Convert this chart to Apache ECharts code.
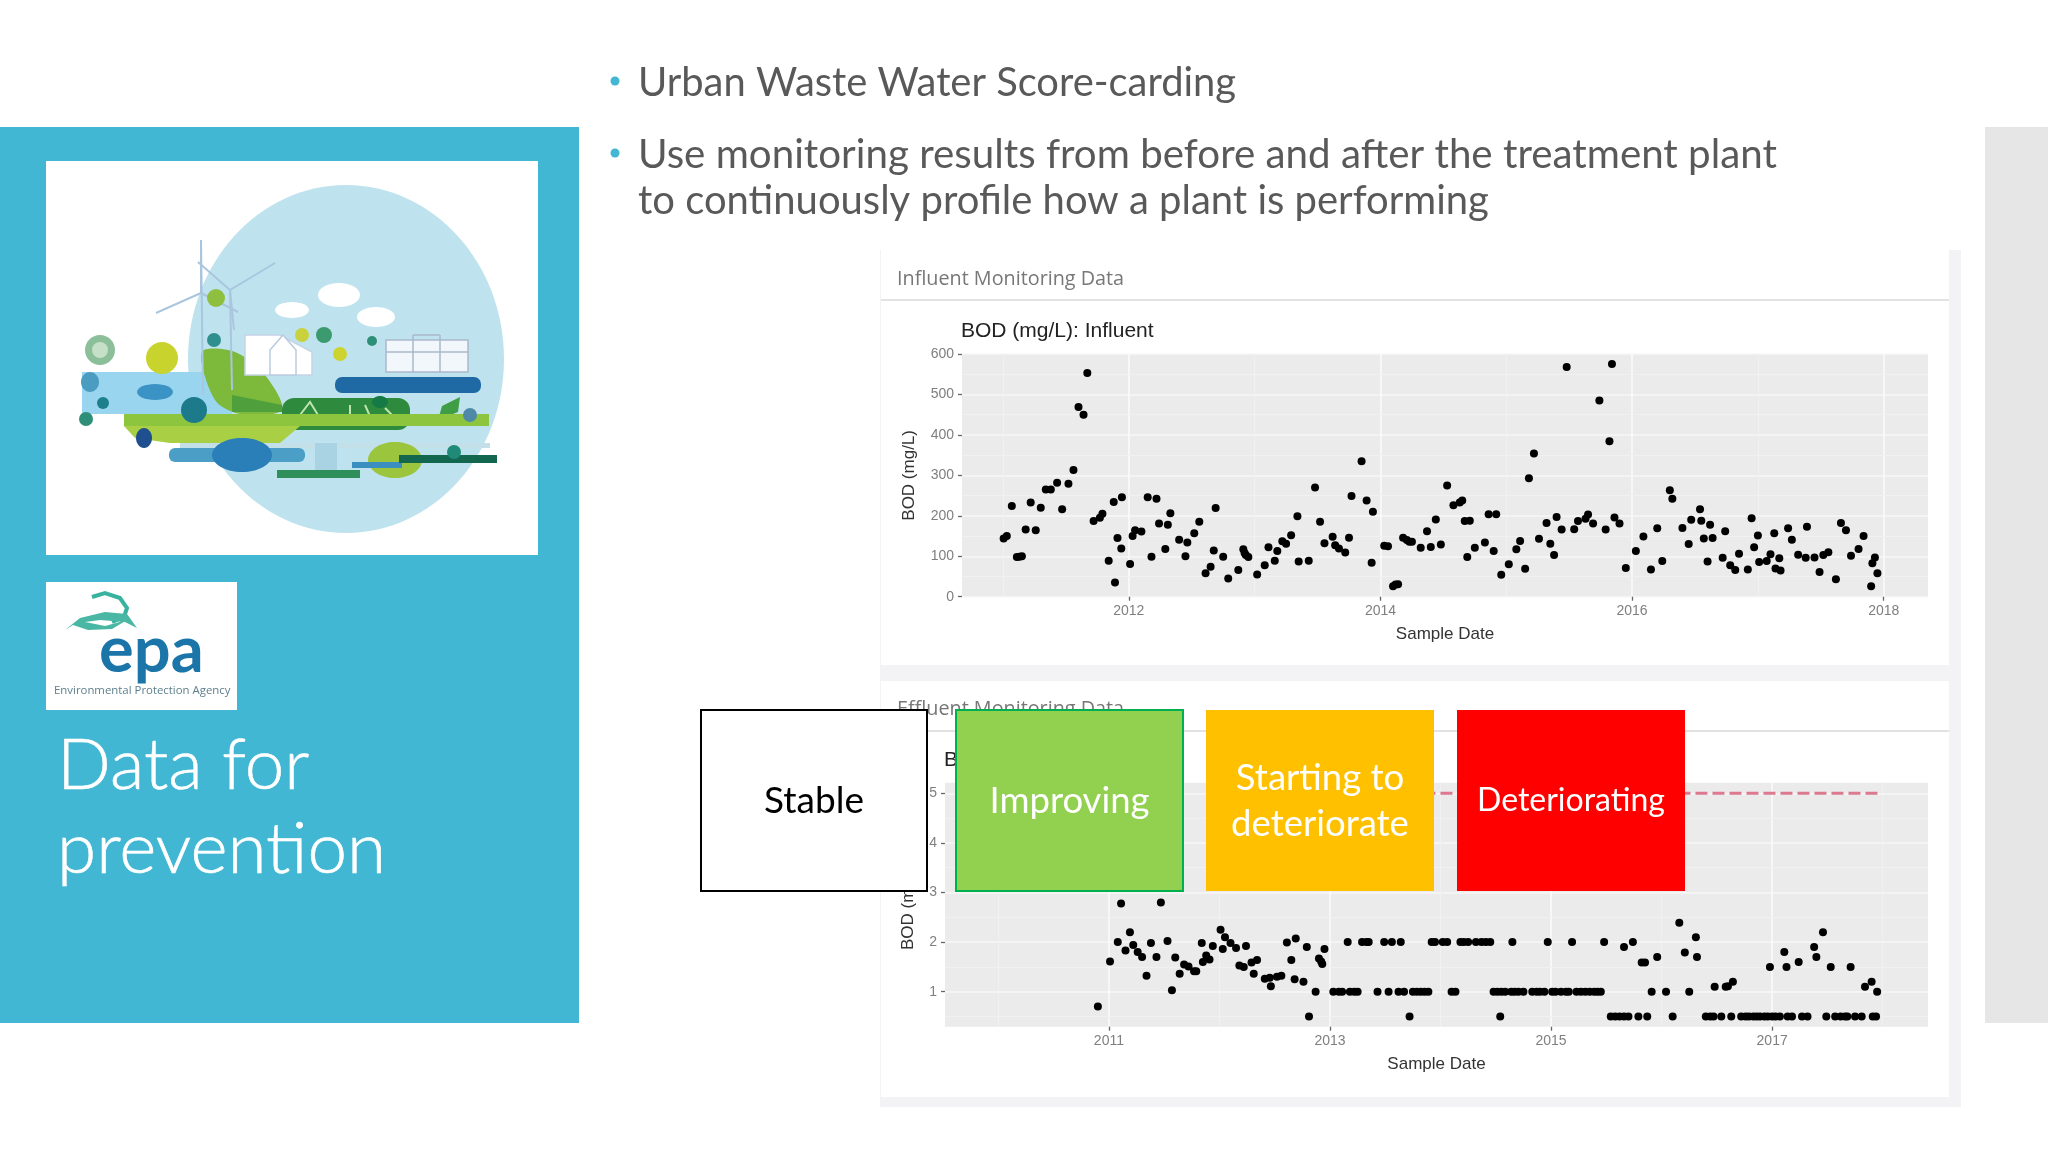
<!DOCTYPE html>
<html><head><meta charset="utf-8">
<style>html,body{margin:0;padding:0;background:#fff}#c{width:2048px;height:1152px}</style>
<script src="https://cdn.jsdelivr.net/npm/echarts@6/dist/echarts.min.js"></script>
</head><body><div id="c"></div>
<script>
const influentDates=[2011.005,2011.03,2011.07,2011.11,2011.13,2011.15,2011.18,2011.22,2011.26,2011.30,2011.34,2011.38,2011.43,2011.47,2011.52,2011.56,2011.60,2011.64,2011.67,2011.72,2011.77,2011.79,2011.84,2011.88,2011.89,2011.91,2011.94,2011.945,2012.01,2012.03,2012.05,2012.10,2012.15,2012.18,2012.22,2012.24,2012.29,2012.31,2012.33,2012.40,2012.45,2012.465,2012.52,2012.56,2012.61,2012.65,2012.675,2012.69,2012.75,2012.79,2012.87,2012.91,2012.92,2012.93,2012.95,2013.02,2013.08,2013.11,2013.16,2013.18,2013.22,2013.25,2013.29,2013.34,2013.35,2013.43,2013.48,2013.52,2013.555,2013.62,2013.64,2013.67,2013.72,2013.75,2013.77,2013.85,2013.89,2013.93,2013.94,2014.03,2014.06,2014.10,2014.12,2014.14,2014.18,2014.21,2014.23,2014.25,2014.32,2014.37,2014.40,2014.44,2014.48,2014.53,2014.58,2014.63,2014.65,2014.67,2014.71,2014.69,2014.75,2014.83,2014.86,2014.92,2014.90,2014.96,2015.02,2015.08,2015.11,2015.15,2015.18,2015.22,2015.26,2015.32,2015.35,2015.38,2015.40,2015.44,2015.48,2015.54,2015.57,2015.63,2015.65,2015.69,2015.74,2015.79,2015.82,2015.84,2015.86,2015.90,2015.95,2016.03,2016.09,2016.15,2016.20,2016.24,2016.30,2016.32,2016.40,2016.45,2016.47,2016.54,2016.55,2016.57,2016.60,2016.62,2016.64,2016.72,2016.74,2016.78,2016.82,2016.85,2016.92,2016.95,2016.97,2017.00,2017.01,2017.07,2017.10,2017.13,2017.14,2017.17,2017.18,2017.24,2017.27,2017.32,2017.38,2017.39,2017.45,2017.49,2017.52,2017.56,2017.62,2017.66,2017.70,2017.74,2017.80,2017.84,2017.90,2017.91,2017.93,2017.95];
const influentBOD=[144,150,224,98,99,100,166,233,164,220,265,265,282,216,279,313,469,450,553,187,195,205,89,234,35,145,119,246,81,150,164,161,246,99,242,181,118,178,206,141,100,134,157,185,58,74,114,219,99,45,66,117,108,103,98,55,78,122,89,113,137,131,152,199,87,89,270,185,132,148,127,119,109,146,249,335,238,84,210,126,125,26,30,31,146,140,136,136,121,162,123,191,129,275,226,233,238,187,188,98,121,134,204,204,113,54,80,117,138,69,293,354,143,182,131,103,197,166,568,167,187,193,203,181,485,166,384,575,196,181,71,113,149,67,169,88,263,242,170,130,190,216,188,144,87,178,145,96,162,78,66,106,67,194,122,151,86,88,105,157,70,95,65,169,141,104,96,173,97,61,103,110,43,182,164,101,118,150,26,83,97,58];

const effluentVariedDates=[2010.90,2011.01,2011.08,2011.11,2011.15,2011.19,2011.22,2011.26,2011.30,2011.34,2011.38,2011.43,2011.47,2011.53,2011.57,2011.60,2011.64,2011.68,2011.72,2011.77,2011.79,2011.84,2011.85,2011.88,2011.91,2011.94,2012.01,2012.03,2012.05,2012.10,2012.15,2012.18,2012.22,2012.24,2012.29,2012.31,2012.34,2012.41,2012.455,2012.465,2012.52,2012.56,2012.61,2012.65,2012.68,2012.69,2012.76,2012.79,2012.90,2012.92,2012.93,2012.95,2015.66,2015.82,2015.85,2015.96,2016.16,2016.21,2016.31,2016.32,2016.48,2016.58,2016.60,2016.645,2016.98,2017.11,2017.13,2017.24,2017.38,2017.40,2017.46,2017.53,2017.71,2017.84,2017.90];
const effluentVariedBOD=[0.70,1.61,2.00,2.78,1.83,2.20,1.94,1.80,1.70,1.32,1.98,1.70,2.80,2.02,1.03,1.69,1.36,1.55,1.51,1.41,1.41,1.98,1.60,1.73,1.65,1.92,2.25,1.86,2.10,1.98,1.88,1.53,1.50,1.92,1.59,1.36,1.64,1.26,1.28,1.11,1.30,1.32,1.99,1.64,1.25,2.07,1.20,1.90,1.67,1.61,1.56,1.86,1.90,1.59,1.59,1.70,2.39,1.79,2.10,1.70,1.10,1.10,1.11,1.20,1.50,1.80,1.50,1.60,1.90,1.70,2.20,1.50,1.50,1.10,1.20];
const effluentAtOneDates=[2012.87,2013.03,2013.08,2013.11,2013.18,2013.22,2013.25,2013.43,2013.53,2013.62,2013.67,2013.75,2013.785,2013.82,2013.855,2013.89,2014.10,2014.135,2014.48,2014.515,2014.55,2014.585,2014.64,2014.67,2014.705,2014.75,2014.83,2014.87,2014.90,2014.94,2015.01,2015.04,2015.09,2015.135,2015.16,2015.23,2015.27,2015.31,2015.35,2015.39,2015.42,2015.45,2015.91,2016.04,2016.25,2017.95];
const effluentAtOneBOD=[1,1,1,1,1,1,1,1,1,1,1,1,1,1,1,1,1,1,1,1,1,1,1,1,1,1,1,1,1,1,1,1,1,1,1,1,1,1,1,1,1,1,1,1,1,1];
const effluentAtTwoDates=[2013.16,2013.29,2013.33,2013.35,2013.49,2013.56,2013.64,2013.92,2013.95,2014.02,2014.06,2014.18,2014.21,2014.25,2014.32,2014.37,2014.41,2014.45,2014.65,2014.97,2015.19,2015.48,2015.74];
const effluentAtTwoBOD=[2,2,2,2,2,2,2,2,2,2,2,2,2,2,2,2,2,2,2,2,2,2,2];
const effluentAtHalfDates=[2012.81,2013.72,2014.54,2015.54,2015.58,2015.62,2015.66,2015.70,2015.79,2015.87,2016.10,2016.40,2016.44,2016.47,2016.54,2016.63,2016.72,2016.76,2016.79,2016.83,2016.86,2016.89,2016.93,2016.96,2017.00,2017.03,2017.07,2017.14,2017.18,2017.27,2017.32,2017.49,2017.57,2017.62,2017.66,2017.68,2017.75,2017.81,2017.91,2017.94];
const effluentAtHalfBOD=[0.5,0.5,0.5,0.5,0.5,0.5,0.5,0.5,0.5,0.5,0.5,0.5,0.5,0.5,0.5,0.5,0.5,0.5,0.5,0.5,0.5,0.5,0.5,0.5,0.5,0.5,0.5,0.5,0.5,0.5,0.5,0.5,0.5,0.5,0.5,0.5,0.5,0.5,0.5,0.5];
const thresholdDates=[2012,2017.995];
const thresholdBOD=[5,5];

const influentYearTicks=[2012,2014,2016,2018];
const influentYearMinor=[2011,2013,2015,2017];
const influentValueMinor=[50,150,250,350,450,550];
const effluentYearTicks=[2011,2013,2015,2017];
const effluentYearMinor=[2010,2012,2014,2016,2018];
const effluentValueTicks=[1,2,3,4,5];
const effluentValueMinor=[0.5,1.5,2.5,3.5,4.5];

const zip=(a,b)=>a.map((v,i)=>[v,b[i]]);
const effluentPoints=[].concat(zip(effluentVariedDates,effluentVariedBOD),zip(effluentAtOneDates,effluentAtOneBOD),zip(effluentAtTwoDates,effluentAtTwoBOD),zip(effluentAtHalfDates,effluentAtHalfBOD));

const AX='"Liberation Sans",Arial,sans-serif', SL='Lato,"Open Sans",sans-serif', UI='"Open Sans",sans-serif';
const xAxis=(grid,min,max,ticks,gap)=>({type:'value',gridIndex:grid,min,max,name:'Sample Date',nameLocation:'middle',nameGap:gap,
 nameTextStyle:{fontFamily:AX,fontSize:17,color:'#333'},
 axisLine:{show:false},axisTick:{show:true,length:4,customValues:ticks,lineStyle:{color:'#666',width:1.3}},
 axisLabel:{customValues:ticks,formatter:v=>String(Math.round(v)),fontFamily:AX,fontSize:14,color:'#7f7f7f',margin:7},
 splitLine:{show:true,lineStyle:{color:'#fafafa',width:1.6}},minorSplitLine:{show:false}});
const yAxis=(grid,min,max,extra,gap)=>Object.assign({type:'value',gridIndex:grid,min,max,name:'BOD (mg/L)',nameLocation:'middle',nameGap:gap,
 nameTextStyle:{fontFamily:AX,fontSize:17,color:'#333'},
 axisLine:{show:false},splitLine:{show:true,lineStyle:{color:'#f7f7f7',width:1.6}}},extra);
const minorLines=(xi,yi,xs,ys)=>({type:'scatter',xAxisIndex:xi,yAxisIndex:yi,data:[],z:1,silent:true,
 markLine:{silent:true,symbol:'none',z:1,animation:false,label:{show:false},lineStyle:{color:'#f1f1f1',width:1,type:'solid'},
  data:[...xs.map(v=>({xAxis:v})),...ys.map(v=>({yAxis:v}))]}});

/* slide furniture drawn as graphic elements */
const g=[];
const rect=(x,y,w,h,fill,z,r)=>g.push({type:'rect',shape:{x,y,width:w,height:h,r:r||0},style:{fill},z:z==null?-5:z});
const txt=(x,y,text,size,fill,font,z,extra)=>g.push({type:'text',x,y,z,style:Object.assign({text,fontSize:size,fill,fontFamily:font,textVerticalAlign:'middle',textBaseline:'middle'},extra||{})});
const circ=(cx,cy,r,fill,z)=>g.push({type:'circle',shape:{cx,cy,r},style:{fill},z:z==null?-5:z});
const ell=(cx,cy,rx,ry,fill,z)=>g.push({type:'ellipse',shape:{cx,cy,rx,ry},style:{fill},z:z==null?-5:z});
const poly=(points,fill,smooth)=>g.push({type:'polygon',shape:{points,smooth:smooth||0},style:{fill},z:-5});
const strokes=(segs,stroke,w)=>segs.forEach(points=>g.push({type:'polyline',shape:{points},style:{stroke,lineWidth:w,fill:null},z:-5}));

rect(0,127,579,896,'#41b7d3',-20);
rect(1985,127,63,896,'#e6e6e6',-20);
/* screenshot cards */
rect(880,250,1081,857,'#f3f3f5',-15);
rect(881,250,1068,415,'#fff',-14);
rect(881,681,1068,416,'#fff',-14);
rect(881,299,1068,2,'#e2e2e2',-13);
rect(881,730,1068,2,'#e2e2e2',-13);
txt(897,279.5,'Influent Monitoring Data',19.8,'#777',UI,-12);
txt(897,709.5,'Effluent Monitoring Data',19.8,'#777',UI,-12);

/* illustration */
rect(46,161,492,394,'#fff',-10);
ell(346,359,158,174,'#bfe3ee');
rect(82,372,150,42,'#9ad5ef');
ell(339,295,21,12,'#fff');ell(292,310,17,8,'#fff');ell(376,317,19,10,'#fff');
poly([[202,352],[235,352],[265,375],[282,410],[240,414],[215,400]],'#7db93a',0.3);
poly([[232,395],[282,405],[282,412],[232,412]],'#4fa03c');
strokes([[[201,240],[203,395]],[[230,290],[232,390]],[[201,293],[201,240]],[[201,293],[156,313]],[[201,293],[238,312]],[[230,290],[275,263]],[[230,290],[198,262]],[[230,290],[234,330]]],'#a9c6de',2);
g.push({type:'polygon',shape:{points:[[245,335],[280,335],[312,352],[312,375],[245,375]]},style:{fill:'#fff',stroke:'#c4d4e6',lineWidth:1.5},z:-5});
g.push({type:'polygon',shape:{points:[[270,375],[270,350],[283,335],[296,350],[296,375]]},style:{fill:'#fff',stroke:'#b9cbe0',lineWidth:1.5},z:-5});
g.push({type:'rect',shape:{x:386,y:340,width:82,height:32},style:{fill:'#f1f7fb',stroke:'#aab9cc',lineWidth:1.5},z:-5});
strokes([[[386,352],[468,352]],[[413,335],[413,372]],[[440,335],[440,372]],[[413,335],[440,335]]],'#aab9cc',1.5);
rect(335,377,146,16,'#1f6aa5',-5,7);
rect(282,398,128,32,'#2e8b3d',-5,12);
strokes([[[300,415],[310,402],[318,415],[310,423]],[[350,405],[350,423]],[[365,405],[373,423]],[[385,408],[393,416],[385,424]]],'#bfe4b0',2);
rect(124,414,365,12,'#8ec53f',-4);
poly([[124,426],[300,426],[280,443],[170,443],[135,438]],'#a9cf45');
rect(180,443,310,5,'#c3dfe8');
ell(100,350,15,15,'#8abf9a');circ(100,350,8,'#c5e0c6');
circ(162,358,16,'#c8d32e');
ell(90,382,9,10,'#4a9cc0');circ(103,403,6,'#1d7f8c');circ(86,419,7,'#2d8f77');
circ(214,340,7,'#2f8f8f');circ(324,335,8,'#3b9a6e');circ(216,298,9,'#8fbf3f');circ(372,341,5,'#2d8f77');
circ(340,354,7,'#cdd42f');circ(302,335,7,'#c9d23c');
ell(155,392,18,8,'#3a93c4');
circ(194,410,13,'#1c7a8a',-3);
ell(144,438,8,10,'#1f4f8f',-3);
ell(380,402,8,6,'#157a45',-3);
poly([[438,420],[442,406],[460,397],[458,412]],'#3f9e45');
circ(470,415,7,'#4e8aa8',-3);
rect(169,448,136,14,'#4b9fc6',-5,6);
ell(242,455,30,17,'#2a7fb8');
rect(315,443,22,28,'#a9d3e2');
rect(277,470,83,8,'#2f8f5b');
ell(395,460,27,18,'#9bc53d');
rect(352,462,50,6,'#3a8ec0');
rect(399,455,98,8,'#14674f');
circ(454,452,7,'#1f8a78');

/* EPA logo */
rect(46,582,191,128,'#fff',-10);
strokes([[[92,597],[105,593],[120,598],[127,608],[124,617],[112,622]]],'#3ab2a0',4);
poly([[65,630],[80,618],[105,612],[127,614],[137,628],[125,622],[100,620],[85,622],[105,626],[127,620],[112,629],[88,630],[73,625]],'#49b7a4');
txt(99,651,'epa',65,'#1b75a8','Lato,sans-serif',-4,{fontWeight:700});
txt(54,691,'Environmental Protection Agency',11.4,'#5c7f8c',UI,-4);

/* text */
txt(57,766,'Data for',71,'#fff',SL,-4,{fontWeight:300,stroke:'#fff',lineWidth:0.6});
txt(57,850,'prevention',71,'#fff',SL,-4,{fontWeight:300,stroke:'#fff',lineWidth:0.6});
circ(615,81,4.5,'#41b7d3',-4);circ(615,153,4.5,'#41b7d3',-4);
txt(638,83,'Urban Waste Water Score-carding',39.9,'#595959',SL,-4);
txt(638,155,'Use monitoring results from before and after the treatment plant',40.3,'#595959',SL,-4);
txt(638,201,'to continuously profile how a plant is performing',40,'#595959',SL,-4);

/* status boxes over the effluent chart */
const box=(x,w,fill,stroke,label,color,size)=>{
 g.push({type:'rect',shape:{x,y:710,width:w,height:181},style:{fill,stroke,lineWidth:stroke?2:0},z:100});
 label.forEach((t,i)=>g.push({type:'text',x:x+w/2,y:801+(i-(label.length-1)/2)*46,z:101,style:{text:t,fontSize:size,fill:color,fontFamily:SL,textAlign:'center',textVerticalAlign:'middle',textBaseline:'middle'}}));
};
box(701,226,'#fff','#000',['Stable'],'#000',37);
box(956,227,'#92d050','#00b050',['Improving'],'#fff',36.5);
box(1206,228,'#ffc000',null,['Starting to','deteriorate'],'#fff',36.5);
box(1457,228,'#ff0000',null,['Deteriorating'],'#fff',32);

const option={animation:false,backgroundColor:'#fff',
 title:[
  {text:'BOD (mg/L): Influent',left:956,top:315.5,textStyle:{fontFamily:AX,fontSize:21,fontWeight:'normal',color:'#222'}},
  {text:'BOD (mg/L): Effluent',left:939,top:745,textStyle:{fontFamily:AX,fontSize:21,fontWeight:'normal',color:'#222'}}],
 grid:[
  {left:962,top:354,width:966,height:242.7,show:true,backgroundColor:'#ebebeb',borderWidth:0},
  {left:945,top:782.7,width:983,height:244,show:true,backgroundColor:'#ebebeb',borderWidth:0}],
 xAxis:[xAxis(0,2010.674,2018.352,influentYearTicks,29),xAxis(1,2009.517,2018.41,effluentYearTicks,29)],
 yAxis:[
  yAxis(0,0,600,{interval:100,axisTick:{show:true,length:4,lineStyle:{color:'#666',width:1.3}},axisLabel:{fontFamily:AX,fontSize:14,color:'#7f7f7f',margin:8}},44.5),
  yAxis(1,0.294,5.214,{axisTick:{show:true,length:4,customValues:effluentValueTicks,lineStyle:{color:'#666',width:1.3}},axisLabel:{customValues:effluentValueTicks,fontFamily:AX,fontSize:14,color:'#7f7f7f',margin:8,formatter:v=>String(Math.round(v))}},28)],
 graphic:{elements:g},
 series:[
  minorLines(0,0,influentYearMinor,influentValueMinor),
  minorLines(1,1,effluentYearMinor,effluentValueMinor),
  {name:'Influent BOD',type:'scatter',xAxisIndex:0,yAxisIndex:0,data:zip(influentDates,influentBOD),symbolSize:8,z:3,itemStyle:{color:'#000',opacity:1}},
  {name:'Effluent BOD',type:'scatter',xAxisIndex:1,yAxisIndex:1,data:effluentPoints,symbolSize:8,z:3,itemStyle:{color:'#000',opacity:1}},
  {name:'Threshold',type:'line',xAxisIndex:1,yAxisIndex:1,data:zip(thresholdDates,thresholdBOD),symbol:'none',z:3,lineStyle:{color:'#dc7890',width:3,type:[12,5]}}
 ]};
echarts.init(document.getElementById('c')).setOption(option);
</script></body></html>
